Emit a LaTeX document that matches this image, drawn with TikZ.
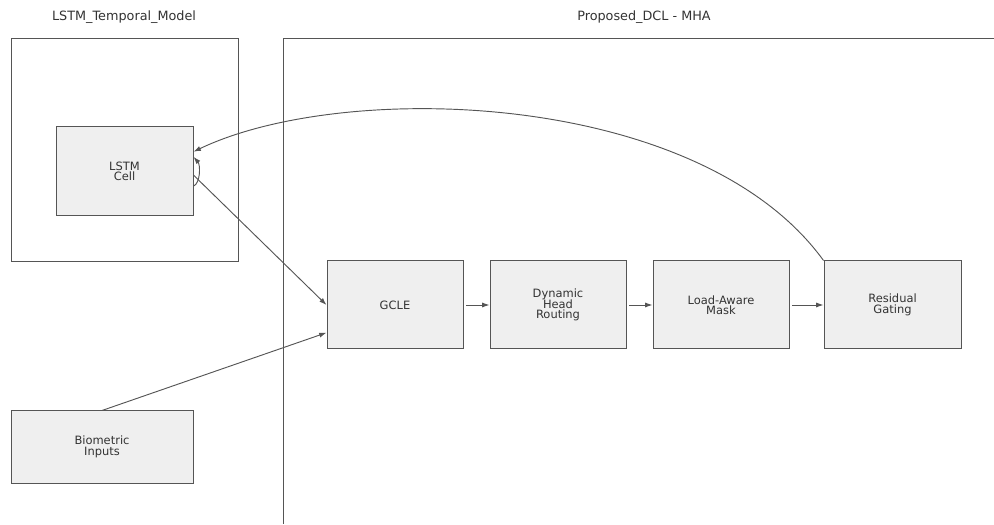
\documentclass[tikz,border=0pt]{standalone}
\usepackage{fontspec}
\setmainfont{DejaVu Sans}
\usetikzlibrary{arrows.meta}

\definecolor{boxfill}{HTML}{EFEFEF}
\definecolor{linegrey}{HTML}{555555}
\definecolor{textgrey}{HTML}{333333}
\newcommand\blockfont{\fontsize{8.6}{7.8}\selectfont\lineskiplimit=-5pt\relax}

\tikzset{
  block/.style={draw=linegrey, fill=boxfill, line width=0.75pt, inner sep=0pt,
    align=center, text=textgrey, font=\blockfont},
  cluster/.style={draw=linegrey, line width=0.7pt},
  ctitle/.style={text=textgrey, font=\fontsize{9.6}{11}\selectfont},
  arr/.style={draw=linegrey, line width=0.7pt, -{Latex[length=5.5pt,width=3.8pt]}}
}

\begin{document}
\begin{tikzpicture}[x=0.75pt, y=0.75pt]
\def \xlstm   {124.5}
\def \xbio    {102}
\def \xgcle   {395}
\def \xdhr    {558}
\def \xlam    {721}
\def \xrg     {892.5}
\def \xclr    {283}

\def \ybio    {77}
\def \yrow    {219}
\def \ylstm   {352.5}
\def \yctop   {486}
\def \ytitle  {507}

\useasboundingbox (0,0) rectangle (994,524);

% clusters
\draw [cluster] (11,263) rectangle (238,\yctop);
\draw [cluster] (994,\yctop) -- (\xclr,\yctop) -- (\xclr,0);
\node [ctitle] (ttemp) at (124,\ytitle) {LSTM\_Temporal\_Model};
\node [ctitle] (tprop) at (644,\ytitle) {Proposed\_DCL - MHA};

% blocks
\node [block, minimum width=102.75pt, minimum height=66.75pt] (lstm) at (\xlstm,\ylstm) {LSTM\\Cell};
\node [block, minimum width=136.5pt, minimum height=54pt] (bio) at (\xbio,\ybio) {Biometric\\Inputs};
\node [block, minimum width=102pt, minimum height=66pt] (gcle) at (\xgcle,\yrow) {GCLE};
\node [block, minimum width=102pt, minimum height=66pt] (dhr) at (\xdhr,\yrow) {Dynamic\\Head\\Routing};
\node [block, minimum width=102pt, minimum height=66pt] (lam) at (\xlam,\yrow) {Load-Aware\\Mask};
\node [block, minimum width=102.75pt, minimum height=66pt] (rg) at (\xrg,\yrow) {Residual\\Gating};

% pipeline
\draw [arr, shorten <=2pt] (gcle) -- (dhr);
\draw [arr, shorten <=2pt] (dhr) -- (lam);
\draw [arr, shorten <=2pt] (lam) -- (rg);

% inputs and feedback
\draw [arr] (bio.north) -- (gcle.202);
\draw [arr] (lstm.-3) -- (gcle.west);
\draw [arr] (rg.north west) .. controls +(-124,171) and +(150,72) .. (lstm.16);
% self loop
\draw [arr] (lstm.-12) .. controls +(7,3) and +(7,-8) .. (lstm.12);

\end{tikzpicture}
\end{document}
